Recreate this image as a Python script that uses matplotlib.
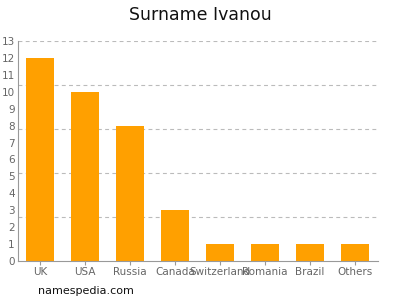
import matplotlib
matplotlib.use("Agg")
import matplotlib.pyplot as plt

categories = ["UK", "USA", "Russia", "Canada", "Switzerland", "Romania", "Brazil", "Others"]
values = [12, 10, 8, 3, 1, 1, 1, 1]
yticks = list(range(0, 14))
grid_levels = [2.6, 5.2, 7.8, 10.4, 13]

fig = plt.figure(figsize=(4, 3), dpi=100)
ax = fig.add_axes([17.5/400, 1-261/300, 360/400, 220/300])
x = list(range(len(categories)))
ax.bar(x, values, width=0.62, color="#ffa000", zorder=2)
for g in grid_levels:
    ax.axhline(g, color="#bbbbbb", linestyle=(0, (3.5, 3)), linewidth=0.8, zorder=1)
ax.set_xlim(-0.5, len(categories) - 0.5)
ax.set_ylim(0, 13)
ax.set_yticks(yticks)
ax.set_yticklabels([str(t) for t in yticks])
ax.set_xticks(x)
ax.set_xticklabels(categories)
ax.tick_params(axis="both", colors="#999999", labelcolor="#666666", labelsize=7.5, length=3, width=0.8, pad=1.5)
ax.tick_params(axis="y", length=0, pad=2)
for s in ["top", "right"]:
    ax.spines[s].set_visible(False)
for s in ["left", "bottom"]:
    ax.spines[s].set_color("#999999")
    ax.spines[s].set_linewidth(0.8)
fig.text(0.5, 0.95, "Surname Ivanou", ha="center", va="center", fontsize=12.5, color="#111111")
fig.text(0.095, 0.03, "namespedia.com", ha="left", va="center", fontsize=8, color="#111111")
fig.savefig("out.png", dpi=100)
